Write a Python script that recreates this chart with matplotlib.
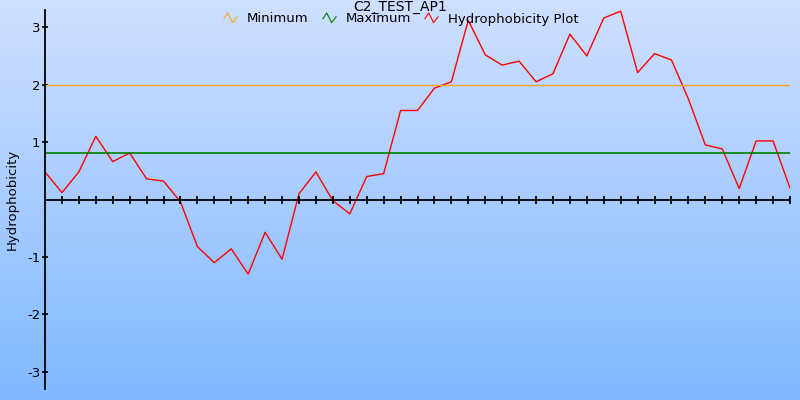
import numpy as np
import matplotlib
matplotlib.use('Agg')
import matplotlib.pyplot as plt
from matplotlib.path import Path
from matplotlib.lines import Line2D

# hydrophobicity values, one per residue window
hydro = [0.48, 0.12, 0.48, 1.10, 0.66, 0.81, 0.36, 0.32, -0.04, -0.82,
         -1.10, -0.86, -1.30, -0.57, -1.04, 0.10, 0.48, -0.02, -0.25, 0.40,
         0.45, 1.55, 1.55, 1.94, 2.05, 3.12, 2.52, 2.34, 2.41, 2.05,
         2.19, 2.88, 2.50, 3.16, 3.28, 2.21, 2.54, 2.43, 1.75, 0.95,
         0.88, 0.19, 1.02, 1.02, 0.20]
min_level = 2.0
max_level = 0.81
yticks = [-3, -2, -1, 1, 2, 3]
title = 'C2_TEST_AP1'

fig = plt.figure(figsize=(8, 4), dpi=100)

# gradient background
bg = fig.add_axes([0, 0, 1, 1], zorder=0)
top = np.array([207, 224, 255]) / 255.0
bot = np.array([128, 184, 255]) / 255.0
t = np.linspace(0, 1, 256)[:, None]
grad = top[None, :] * (1 - t) + bot[None, :] * t
bg.imshow(grad[:, None, :], aspect='auto', extent=[0, 1, 0, 1])
bg.axis('off')

ax = fig.add_axes([45 / 800, 11 / 400, 745 / 800, 379 / 400], zorder=1)
ax.patch.set_alpha(0)

x = np.arange(len(hydro))
ax.plot(x, hydro, color='red', lw=1)
ax.axhline(min_level, color='#f5a623', lw=1)
ax.axhline(max_level, color='green', lw=1.2)

lim = max(abs(v) for v in hydro)
ax.set_ylim(-lim - 0.02, lim + 0.02)
ax.set_xlim(0, len(hydro) - 1)

for s in ['top', 'right', 'bottom']:
    ax.spines[s].set_visible(False)
ax.spines['left'].set_linewidth(1.3)
ax.axhline(0, color='black', lw=1.3)
ax.plot(x[1:], np.zeros(len(x) - 1), ls='none', marker='|', ms=6, mew=1.3,
        color='black', clip_on=False)

ax.set_xticks([])
ax.set_yticks(yticks)
ax.set_yticklabels([str(v) for v in yticks])
ax.tick_params(axis='y', direction='inout', length=5, width=1.2, labelsize=9.5, pad=1)
ax.set_ylabel('Hydrophobicity', fontsize=9.5, labelpad=6)

fig.text(0.5, 1 - 6.5 / 400, title, ha='center', va='center', fontsize=10)

zig = Path([(-1, -0.1), (-0.4, 0.8), (0.3, -0.6), (1, 0.3)])
handles = [Line2D([], [], ls='none', marker=zig, ms=10, mew=0.8, color=c, fillstyle='none')
           for c in ['#f5a623', 'green', 'red']]
fig.legend(handles, ['Minimum', 'Maximum', 'Hydrophobicity Plot'], ncol=3,
           loc='center', bbox_to_anchor=(0.5, 1 - 19 / 400), frameon=False,
           fontsize=9.5, handlelength=1.3, handletextpad=0.6, columnspacing=0.9,
           borderpad=0)

fig.savefig('out.png', dpi=100)
